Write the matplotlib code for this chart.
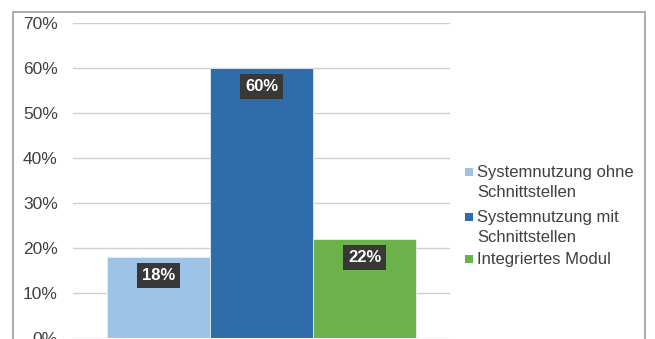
import matplotlib
matplotlib.use("Agg")
import matplotlib.pyplot as plt
from matplotlib.patches import Rectangle

# Data
categories = ["Systemnutzung ohne\nSchnittstellen",
              "Systemnutzung mit\nSchnittstellen",
              "Integriertes Modul"]
values = [0.18, 0.60, 0.22]
colors = ["#9DC3E6", "#2E6DAA", "#6BB24A"]
yticks = [0, 0.1, 0.2, 0.3, 0.4, 0.5, 0.6, 0.7]
ytick_labels = ["0%", "10%", "20%", "30%", "40%", "50%", "60%", "70%"]

plt.rcParams['font.family'] = ['Liberation Sans', 'DejaVu Sans']

W, H = 655, 339
fig = plt.figure(figsize=(W / 100, H / 100), dpi=100)

# outer chart frame
fig.patches.append(Rectangle((13 / W, -0.1), (645 - 13) / W, 1.1 - 12 / H,
                             transform=fig.transFigure, fill=False,
                             edgecolor="#a6a6a6", linewidth=1.3))

ax = fig.add_axes([73 / W, (H - 338) / H, (450 - 73) / W, (338 - 23) / H])
ax.set_ylim(0, 0.7)
ax.set_xlim(-0.83, 2.83)
for s in ax.spines.values():
    s.set_visible(False)
ax.set_yticks(yticks)
ax.set_yticklabels(ytick_labels, fontsize=12.5, color="#404040")
ax.tick_params(axis='y', length=0, pad=11)
ax.set_xticks([])
ax.yaxis.grid(True, color="#cfcfcf", linewidth=1)
ax.set_axisbelow(True)

x = range(len(values))
ax.bar(x, values, width=1.0, color=colors, edgecolor="#e8eef5", linewidth=0.6, zorder=2)

for xi, v in zip(x, values):
    ax.annotate(f"{int(round(v * 100))}%", (xi, v), xytext=(0, -13),
                textcoords="offset points", ha="center", va="center",
                fontsize=12, fontweight="bold", color="white", zorder=3,
                bbox=dict(boxstyle="square,pad=0.3", fc="#383838", ec="none"))

# legend drawn by hand so the marker sits on the first text line
leg_y = [172, 217, 259]
for lab, col, yy in zip(categories, colors, leg_y):
    fig.patches.append(Rectangle((465 / W, (H - yy - 4) / H), 8 / W, 8 / H,
                                 transform=fig.transFigure, facecolor=col,
                                 edgecolor="none"))
    fig.text(477 / W, (H - yy + 7) / H, lab, ha="left", va="top",
             fontsize=12, color="#404040", linespacing=1.4)

fig.savefig("out.png", dpi=100)
